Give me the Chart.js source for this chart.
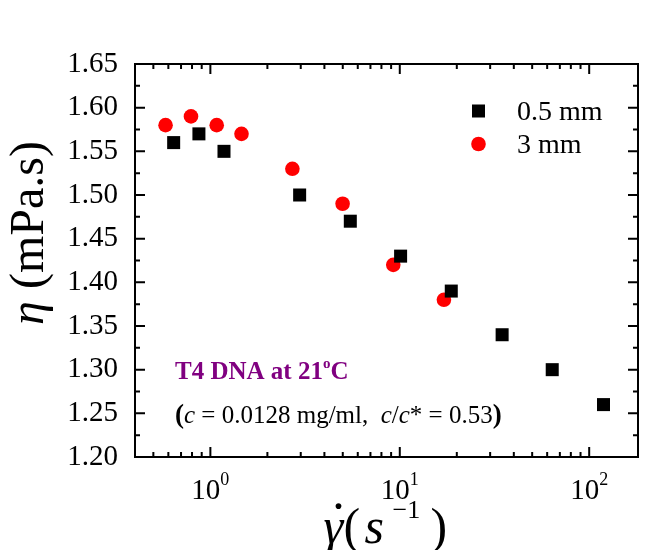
<!DOCTYPE html>
<html><head><meta charset="utf-8">
<script src="https://cdn.jsdelivr.net/npm/chart.js@4/dist/chart.umd.min.js"></script>
<style>html,body{margin:0;padding:0;background:#fff}#wrap{width:667px;height:550px;position:relative}</style>
</head><body><div id="wrap"><canvas id="c"></canvas></div>
<script>
// ---- data ----
const seriesNames = ['0.5 mm', '3 mm'];
const shear05 = [0.64, 0.87, 1.18, 2.96, 5.48, 10.1, 18.7, 34.7, 63.8, 119];
const visc05  = [1.56, 1.57, 1.55, 1.50, 1.47, 1.43, 1.39, 1.34, 1.30, 1.26];
const shear3  = [0.58, 0.79, 1.08, 1.46, 2.71, 4.99, 9.24, 17.1];
const visc3   = [1.58, 1.59, 1.58, 1.57, 1.53, 1.49, 1.42, 1.38];
const xDecades = [1, 10, 100];
const xExponents = ['0', '1', '2'];
const yRange = [1.20, 1.65];
const yStep = 0.05;
const xRange = [0.4, 181];

const SERIF = '"Liberation Serif", "Times New Roman", "DejaVu Serif", serif';

function pts(xs, ys) { return xs.map((x, i) => ({x: x, y: ys[i]})); }

function drawSegments(ctx, segs, x, y, align) {
  let total = 0;
  segs.forEach(s => { ctx.font = s[1]; total += ctx.measureText(s[0]).width; });
  let cx = align === 'center' ? x - total / 2 : x;
  ctx.textAlign = 'left';
  segs.forEach(s => {
    ctx.font = s[1];
    ctx.fillText(s[0], cx, y + (s[2] || 0));
    cx += ctx.measureText(s[0]).width;
  });
}

const framePlugin = {
  id: 'frame',
  afterDraw(chart) {
    const ctx = chart.ctx, a = chart.chartArea;
    const xs = chart.scales.x, ys = chart.scales.y;
    ctx.save();
    ctx.strokeStyle = '#000';
    ctx.lineWidth = 2;
    ctx.strokeRect(a.left, a.top, a.right - a.left, a.bottom - a.top);
    ctx.beginPath();
    const yMajor = ys.ticks.map(t => t.value);
    yMajor.forEach((v, i) => {
      const p = ys.getPixelForValue(v);
      ctx.moveTo(a.left, p); ctx.lineTo(a.left + 10, p);
      ctx.moveTo(a.right, p); ctx.lineTo(a.right - 10, p);
      if (i < yMajor.length - 1) {
        const q = ys.getPixelForValue((v + yMajor[i + 1]) / 2);
        ctx.moveTo(a.left, q); ctx.lineTo(a.left + 5, q);
        ctx.moveTo(a.right, q); ctx.lineTo(a.right - 5, q);
      }
    });
    for (let n = -1; n <= 2; n++) {
      for (let k = 1; k <= 9; k++) {
        const v = k * Math.pow(10, n);
        if (v < xs.min || v > xs.max) continue;
        const p = xs.getPixelForValue(v);
        const L = k === 1 ? 10 : 5;
        ctx.moveTo(p, a.bottom); ctx.lineTo(p, a.bottom - L);
        ctx.moveTo(p, a.top); ctx.lineTo(p, a.top + L);
      }
    }
    ctx.stroke();

    ctx.fillStyle = '#000';
    ctx.textBaseline = 'alphabetic';
    // x tick labels with superscripts
    xDecades.forEach((v, i) => {
      const p = xs.getPixelForValue(v);
      drawSegments(ctx, [['10', '29px ' + SERIF, 0], [xExponents[i], '18px ' + SERIF, -14]], p, 499, 'center');
    });
    // x title  (gamma-dot (s^-1))
    const cxT = (a.left + a.right) / 2;
    ctx.textAlign = 'left';
    ctx.font = 'italic 50px ' + SERIF;
    ctx.fillText('\u03B3', cxT - 63, 543);
    ctx.textAlign = 'center';
    ctx.font = 'bold 36px ' + SERIF;
    ctx.fillText('.', cxT - 48, 509);
    ctx.textAlign = 'left';
    ctx.font = '50px ' + SERIF;
    ctx.fillText('(', cxT - 43, 543);
    ctx.font = 'italic 50px ' + SERIF;
    ctx.fillText('s', cxT - 22, 543);
    ctx.font = '26px ' + SERIF;
    ctx.fillText('\u22121', cxT + 6, 518);
    ctx.font = '50px ' + SERIF;
    ctx.fillText(')', cxT + 44, 543);
    // y title
    ctx.save();
    ctx.translate(43, 233);
    ctx.rotate(-Math.PI / 2);
    drawSegments(ctx, [
      ['\u03B7', 'italic 48px ' + SERIF, 0],
      [' (mPa.s)', '48px ' + SERIF, 0]
    ], 0, 0, 'center');
    ctx.restore();

    // legend
    const ds = chart.data.datasets;
    const legY = [111, 144];
    ds.forEach((d, i) => {
      ctx.fillStyle = d.backgroundColor;
      if (d.pointStyle === 'rect') {
        ctx.fillRect(472, legY[i] - 6.5, 13, 13);
      } else {
        ctx.beginPath(); ctx.arc(478.5, legY[i], 7.3, 0, Math.PI * 2); ctx.fill();
      }
      ctx.fillStyle = '#000';
      ctx.font = '28px ' + SERIF;
      ctx.textAlign = 'left';
      ctx.fillText(d.label, 517, legY[i] + 9);
    });

    // annotation
    ctx.fillStyle = '#800080';
    drawSegments(ctx, [
      ['T4 DNA at 21', 'bold 25px ' + SERIF, 0],
      ['o', 'bold 15px ' + SERIF, -11],
      ['C', 'bold 25px ' + SERIF, 0]
    ], 175, 379, 'left');
    ctx.fillStyle = '#000';
    drawSegments(ctx, [
      ['(', 'bold 27px ' + SERIF, 0],
      ['c', 'italic 25px ' + SERIF, 0],
      [' = 0.0128 mg/ml,  ', '25px ' + SERIF, 0],
      ['c', 'italic 25px ' + SERIF, 0],
      ['/', '25px ' + SERIF, 0],
      ['c', 'italic 25px ' + SERIF, 0],
      ['* = 0.53', '25px ' + SERIF, 0],
      [')', 'bold 27px ' + SERIF, 0]
    ], 175, 423, 'left');
    ctx.restore();
  }
};

new Chart(document.getElementById('c'), {
  type: 'scatter',
  data: {
    datasets: [
      { label: seriesNames[0], data: pts(shear05, visc05), pointStyle: 'rect', pointRadius: 9.2,
        pointHoverRadius: 9.2, backgroundColor: '#000000', borderColor: '#000000', borderWidth: 0 },
      { label: seriesNames[1], data: pts(shear3, visc3), pointStyle: 'circle', pointRadius: 7.3,
        pointHoverRadius: 7.3, backgroundColor: '#ff0000', borderColor: '#ff0000', borderWidth: 0 }
    ]
  },
  options: {
    responsive: true, maintainAspectRatio: false, animation: false,
    layout: { padding: { left: 0, top: 64, right: 29, bottom: 0 } },
    plugins: { legend: { display: false }, tooltip: { enabled: false } },
    scales: {
      x: {
        type: 'logarithmic', min: xRange[0], max: xRange[1],
        grid: { display: false, drawTicks: false }, border: { display: false },
        ticks: { display: false },
        afterFit: s => { s.height = 93; }
      },
      y: {
        type: 'linear', min: yRange[0], max: yRange[1],
        grid: { display: false, drawTicks: false }, border: { display: false },
        ticks: { stepSize: yStep, padding: 17, color: '#000',
          font: { family: SERIF, size: 29 },
          callback: v => Number(v).toFixed(2) },
        afterFit: s => { s.width = 135; }
      }
    }
  },
  plugins: [framePlugin]
});
</script>
</body></html>
